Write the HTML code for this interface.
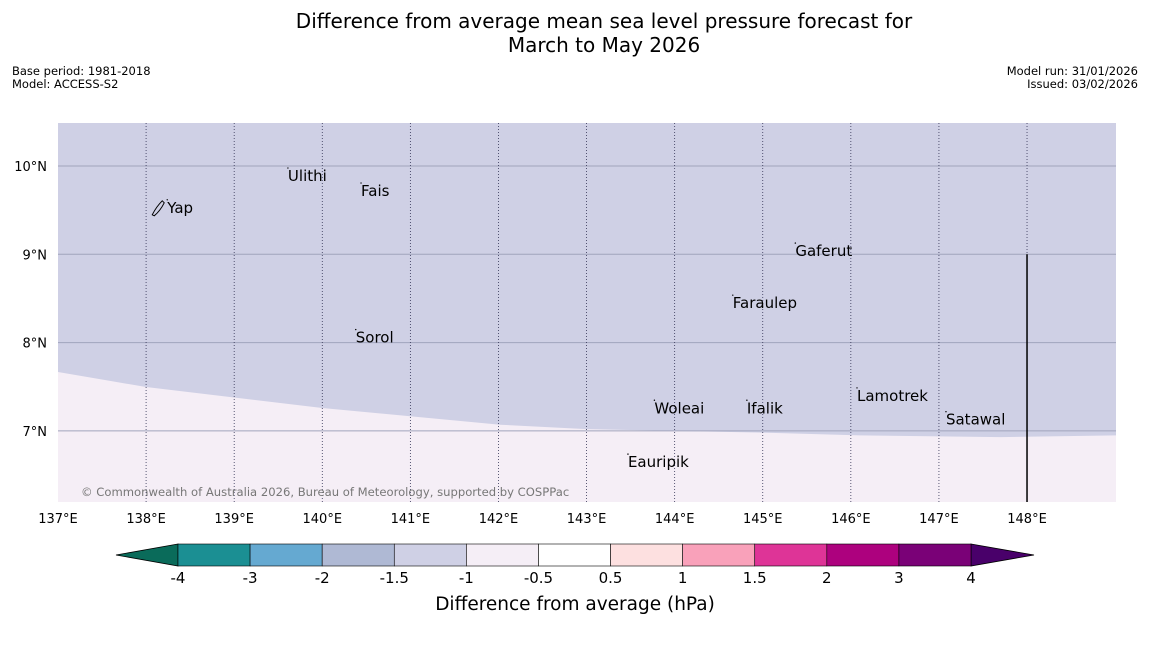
<!DOCTYPE html>
<html><head><meta charset="utf-8"><style>
body{margin:0;background:#fff;width:1150px;height:644px;overflow:hidden;font-family:"DejaVu Sans","Liberation Sans",sans-serif}
</style></head><body>
<svg width="1150" height="644" xmlns="http://www.w3.org/2000/svg" font-family="DejaVu Sans, Liberation Sans, sans-serif">
<text x="604" y="28" font-size="20" text-anchor="middle">Difference from average mean sea level pressure forecast for</text>
<text x="604" y="52" font-size="20" text-anchor="middle">March to May 2026</text>
<text x="12" y="75" font-size="11.5">Base period: 1981-2018</text>
<text x="12" y="88" font-size="11.5">Model: ACCESS-S2</text>
<text x="1138" y="75" font-size="11.5" text-anchor="end">Model run: 31/01/2026</text>
<text x="1138" y="88" font-size="11.5" text-anchor="end">Issued: 03/02/2026</text>
<g id="map"></g>
<g id="cbar"></g>
<text x="575" y="610" font-size="18.5" text-anchor="middle">Difference from average (hPa)</text>
</svg>
<script>
const lonTicks=[137,138,139,140,141,142,143,144,145,146,147,148];
const latTicks=[7,8,9,10];
const boundaryLon=[137,138,140,142.02,143,145,146.1,147.7,149.01];
const boundaryLat=[7.667,7.497,7.26,7.07,7.02,6.98,6.95,6.93,6.95];
const islandNames=["Yap","Ulithi","Fais","Sorol","Gaferut","Faraulep","Woleai","Ifalik","Lamotrek","Satawal","Eauripik"];
const islandLon=[138.24,139.61,140.44,140.38,145.37,144.66,143.77,144.82,146.07,147.08,143.47];
const islandLat=[9.47,9.83,9.66,8.00,8.98,8.39,7.20,7.20,7.34,7.07,6.59];
const cbLevels=[-4,-3,-2,-1.5,-1,-0.5,0.5,1,1.5,2,3,4];
const cbColors=["#1b8f93","#65a9d1","#afb9d4","#cfd0e5","#f5eef6","#ffffff","#fde0e0","#f9a1ba","#de3497","#ad017e","#7a0177"];
const NS="http://www.w3.org/2000/svg";
const X0=58,X1=1116,Y0=123,Y1=502;
const lonMin=137,lonMax=149.01,latMin=6.195,latMax=10.487;
const x=l=>X0+(l-lonMin)/(lonMax-lonMin)*(X1-X0);
const y=l=>Y1-(l-latMin)/(latMax-latMin)*(Y1-Y0);
function mk(t,a,p){const e=document.createElementNS(NS,t);for(const k in a)e.setAttribute(k,a[k]);p.appendChild(e);return e;}
const map=document.getElementById('map');
const bg=mk('rect',{x:X0,y:Y0,width:X1-X0,height:Y1-Y0,fill:'#f5eef6'},map);


let d=`M${X0},${Y0}`;boundaryLon.forEach((l,i)=>d+=` L${x(l)},${y(boundaryLat[i])}`);d+=` L${X1},${Y0} Z`;
const reg=mk('path',{d:d,fill:'#cfd0e5'},map);


latTicks.forEach(l=>{
 const g=mk('line',{x1:X0,x2:X1,y1:y(l),y2:y(l),stroke:'#a0a4bc','stroke-width':1},map);
 
 
 const t=mk('text',{x:X0-11,y:y(l)+5,'font-size':13,'text-anchor':'end'},map);t.textContent=l+'°N';
 
 
});
lonTicks.forEach(l=>{
 if(l>137){const g=mk('line',{x1:x(l),x2:x(l),y1:Y0,y2:Y1,stroke:'#333355','stroke-width':0.8,'stroke-dasharray':'1,2'},map);
 
 }
 const t=mk('text',{x:x(l),y:523,'font-size':13,'text-anchor':'middle'},map);t.textContent=l+'°E';
 
 
});
const vl=mk('line',{x1:x(148),x2:x(148),y1:y(9),y2:Y1,stroke:'#000','stroke-width':1.5},map);


islandNames.forEach((n,i)=>{
 const px=x(islandLon[i]),py=y(islandLat[i]);
 const dt=mk('circle',{cx:px,cy:py-13,r:0.7,fill:'#000'},map);
 
 
 const t=mk('text',{x:px,y:py,'font-size':15},map);t.textContent=n;
 
 
});
const yap=mk('path',{d:`M${x(138.24)-15},${y(9.47)+2} q4,-8 10,-14 l2,2 q-4,8 -10,13 z`,fill:'none',stroke:'#000','stroke-width':1},map);


const cp=mk('text',{x:81,y:496,'font-size':11.6,fill:'#777'},map);cp.textContent='© Commonwealth of Australia 2026, Bureau of Meteorology, supported by COSPPac';


const cb=document.getElementById('cbar');
const C0=178,C1=971,CY0=544,CY1=566,n=cbColors.length,w=(C1-C0)/n;
const lt=mk('path',{d:`M${C0},${CY0} L116,${(CY0+CY1)/2} L${C0},${CY1} Z`,fill:'#0a6b5a',stroke:'#000','stroke-width':0.8},cb);


const rt=mk('path',{d:`M${C1},${CY0} L1034,${(CY0+CY1)/2} L${C1},${CY1} Z`,fill:'#49006a',stroke:'#000','stroke-width':0.8},cb);


cbColors.forEach((c,i)=>{
 const r=mk('rect',{x:C0+i*w,y:CY0,width:w,height:CY1-CY0,fill:c,stroke:'#000','stroke-width':0.6},cb);
 
 
});
cbLevels.forEach((v,i)=>{
 const t=mk('text',{x:C0+i*w,y:583,'font-size':15,'text-anchor':'middle'},cb);t.textContent=v;
 
 
});
</script>
</body></html>
